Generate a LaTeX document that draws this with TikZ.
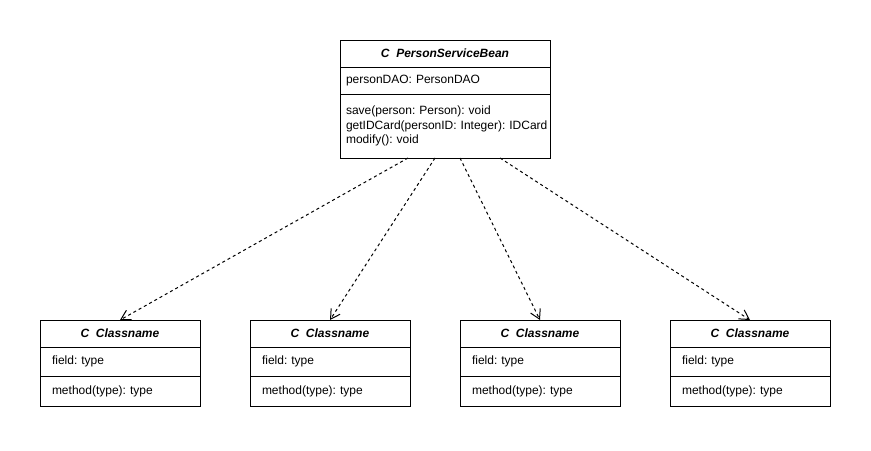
\documentclass[tikz,border=0pt]{standalone}
\usepackage{fontspec}
\setmainfont{Liberation Sans}
\frenchspacing
\usetikzlibrary{arrows.meta}
\usetikzlibrary{positioning}
\tikzstyle{head} = [draw, line width=0.75pt, outer sep=0pt, minimum height=20.25pt, font=\fontsize{9}{11}\selectfont\bfseries\itshape]
\tikzstyle{part} = [draw, line width=0.75pt, outer sep=0pt, align=left, font=\fontsize{9}{11}\selectfont]
\tikzstyle{smallPart} = [part, text width=102pt, inner xsep=9pt]
\tikzstyle{beanPart} = [part, text width=148.5pt, inner xsep=4.5pt]
\tikzstyle{dep} = [line width=0.75pt, dash pattern=on 2.25pt off 2.25pt, -{Straight Barb[length=7pt,width=8pt]}]

\begin{document}
\begin{tikzpicture}[x=0.75pt, y=-0.75pt]
                        \useasboundingbox (0,0) rectangle (871,450);
                        % service bean
                        \node (bean) [head, minimum width=157.5pt] at (445,53.5) {C\ \ PersonServiceBean};
                        \node (beanField) [beanPart, minimum height=20.25pt, below=0pt of bean] {personDAO: PersonDAO};
                        \node (beanOps) [beanPart, minimum height=48pt, below=0pt of beanField] {save(person: Person): void\\\mbox{getIDCard(personID: Integer): IDCard}\\modify(): void};
                        \coordinate (s0) at (408,158);
                        \coordinate (s1) at (435,158);
                        \coordinate (s2) at (460,158);
                        \coordinate (s3) at (500,158);
                        % classes below
                        \node (0) [head, minimum width=120pt] at (120,333.5) {C\ \ Classname};
                        \node (0f) [smallPart, minimum height=21.75pt, below=0pt of 0] {field: type};
                        \node (0m) [smallPart, minimum height=22.5pt, below=0pt of 0f] {method(type): type};
                        \node (1) [head, minimum width=120pt] at (330,333.5) {C\ \ Classname};
                        \node (1f) [smallPart, minimum height=21.75pt, below=0pt of 1] {field: type};
                        \node (1m) [smallPart, minimum height=22.5pt, below=0pt of 1f] {method(type): type};
                        \node (2) [head, minimum width=120pt] at (540,333.5) {C\ \ Classname};
                        \node (2f) [smallPart, minimum height=21.75pt, below=0pt of 2] {field: type};
                        \node (2m) [smallPart, minimum height=22.5pt, below=0pt of 2f] {method(type): type};
                        \node (3) [head, minimum width=120pt] at (750,333.5) {C\ \ Classname};
                        \node (3f) [smallPart, minimum height=21.75pt, below=0pt of 3] {field: type};
                        \node (3m) [smallPart, minimum height=22.5pt, below=0pt of 3f] {method(type): type};
                        \draw (s0) [dep] -- (0.north);
                        \draw (s1) [dep] -- (1.north);
                        \draw (s2) [dep] -- (2.north);
                        \draw (s3) [dep] -- (3.north);
                    \end{tikzpicture}
\end{document}
